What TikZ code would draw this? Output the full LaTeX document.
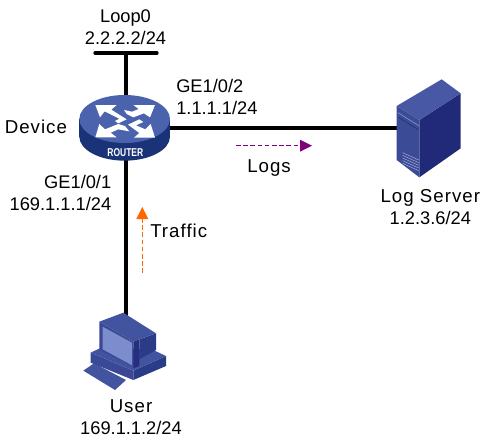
\documentclass[tikz,border=0pt]{standalone}
\usepackage{fontspec}
\setmainfont{Liberation Sans}
\newfontfamily\spacedfont[LetterSpace=5.5]{Liberation Sans}
\definecolor{rtop}{RGB}{74,99,172}
\definecolor{rside}{RGB}{25,50,120}
\definecolor{sfront}{RGB}{60,75,150}
\definecolor{stop}{RGB}{72,88,165}
\definecolor{sside}{RGB}{32,42,120}
\definecolor{ufront}{RGB}{58,72,150}
\definecolor{utop}{RGB}{66,84,160}
\definecolor{udark}{RGB}{36,48,125}
\definecolor{umid}{RGB}{42,60,135}
\definecolor{uscreen}{RGB}{125,140,205}
\definecolor{logp}{RGB}{128,0,128}
\definecolor{trafo}{RGB}{255,102,0}
\newcommand{\wordtext}[1]{{\spacedfont\fontsize{14pt}{16.5pt}\selectfont #1}}
\tikzset{
 lbl/.style={font=\fontsize{13.7pt}{16.5pt}\selectfont,align=center,inner sep=0pt,text=black},
 link/.style={line width=2.5pt,black},
 anchorbox/.style={inner sep=0pt,minimum size=1pt},
 wh/.style={fill=white,draw=none},
 flow/.style={line width=0.95pt,dash pattern=on 3.5pt off 1.9pt}
}
\begin{document}
\begin{tikzpicture}[x=0.75pt,y=-0.75pt]
\useasboundingbox (0,0) rectangle (486,446);
% anchors
\node[anchorbox] (router) at (126,128) {};
\node[anchorbox] (server) at (398,128) {};
\node[anchorbox] (user) at (126,325) {};
\coordinate (lbL) at (95,53);
\coordinate (lbR) at (157,53);
\coordinate (lbM) at (126,53);
\coordinate (logA) at (236,145.7);
\coordinate (logS) at (300,145.7);
\coordinate (logB) at (312,145.7);
\coordinate (trA) at (142.3,273);
\coordinate (trS) at (142.3,219);
\coordinate (trB) at (142.3,207);
% links
\draw[link,line cap=round] (lbL) -- (lbR);
\draw[link] (lbM) -- (router.center);
\draw[link] (router.center) -- (server.center);
\draw[link] (router.center) -- (user.center);
% flow arrows
\draw[logp,flow] (logA) -- (logS);
\fill[logp] (logB) -- (300,139.7) -- (300,151.7) -- cycle;
\draw[trafo,flow] (trA) -- (trS);
\fill[trafo] (trB) -- (136.3,219) -- (148.3,219) -- cycle;
% router
\begin{scope}[shift={(70,40)},x=0.25pt,y=-0.25pt]
\fill[rside] (28,237) rectangle (300,290);
\fill[rside] (164,290) ellipse[x radius=136,y radius=72];
\fill[rtop] (164,237) ellipse[x radius=136,y radius=72];
\node[font=\bfseries\fontsize{8.5pt}{9pt}\selectfont,text=white,inner sep=0pt] (routerlabel) at (166,338) {\scalebox{.75}[1]{ROUTER}};
\fill[wh] (76,195) -- (140,195) -- (124,209) -- (170,238) -- (145,250) -- (135,243) -- (148,236) -- (104,214) -- (90,232) -- cycle;
\fill[wh] (255,195) -- (190,195) -- (206,207) -- (186,215) -- (162,210) -- (170,222) -- (190,232) -- (222,220) -- (240,232) -- cycle;
\fill[wh] (76,292) -- (140,292) -- (122,278) -- (145,268) -- (178,274) -- (165,258) -- (145,252) -- (105,268) -- (88,252) -- cycle;
\fill[wh] (255,293) -- (192,293) -- (208,279) -- (174,254) -- (208,238) -- (220,246) -- (198,256) -- (226,268) -- (242,252) -- cycle;
\end{scope}
% server
\begin{scope}[shift={(370,70)},x=0.25pt,y=-0.25pt]
\fill[sside] (148,150) -- (272,70) -- (272,235) -- (148,322) -- cycle;
\fill[stop] (80,108) -- (215,28) -- (272,70) -- (148,150) -- cycle;
\fill[sfront] (80,108) -- (148,150) -- (148,322) -- (80,270) -- cycle;
\draw[stop!60!white,line width=0.4pt] (84,128) -- (148,168);
\draw[sside,line width=0.4pt] (86,142) -- (146,180);
\foreach \yy in {248,256,264,272,280}
 \draw[stop!40!white,line width=0.3pt] (98,\yy) -- (146,\yy+22);
\end{scope}
% user
\begin{scope}[shift={(70,300)},x=0.25pt,y=-0.25pt]
\fill[utop] (40,212) -- (72,190) -- (168,240) -- (135,270) -- cycle;
\fill[ufront] (62,158) -- (62,188) -- (190,240) -- (190,212) -- cycle;
\fill[umid] (190,240) -- (288,198) -- (288,168) -- (190,212) -- cycle;
\fill[utop] (62,158) -- (100,140) -- (250,150) -- (288,168) -- (190,212) -- cycle;
\fill[umid] (208,118) -- (258,100) -- (258,150) -- (208,178) -- cycle;
\fill[utop] (88,65) -- (160,38) -- (258,100) -- (208,118) -- (190,125) -- cycle;
\fill[ufront] (88,65) -- (190,125) -- (190,200) -- (88,150) -- cycle;
\fill[udark] (190,125) -- (208,118) -- (208,198) -- (190,205) -- cycle;
\fill[uscreen] (98,80) -- (186,128) -- (186,196) -- (98,148) -- cycle;
\end{scope}
% labels
\node[lbl] (loop) at (125.5,27.5) {Loop0\\2.2.2.2/24};
\node[lbl,anchor=base west] (devlbl) at (4.5,133) {\wordtext{Device}};
\node[lbl,anchor=west,align=left] (ge2) at (176,97) {GE1/0/2\\1.1.1.1/24};
\node[lbl,anchor=east,align=right] (ge1) at (111.5,192.5) {GE1/0/1\\169.1.1.1/24};
\node[lbl,anchor=base west] (logs) at (247,172) {\wordtext{Logs}};
\node[lbl,anchor=base west] (traffic) at (150,237) {\wordtext{Traffic}};
\node[lbl] (srvlbl) at (430.3,207.5) {\wordtext{Log Server}\\1.2.3.6/24};
\node[lbl] (usrlbl) at (131,417) {\wordtext{User}\\169.1.1.2/24};
\end{tikzpicture}
\end{document}
